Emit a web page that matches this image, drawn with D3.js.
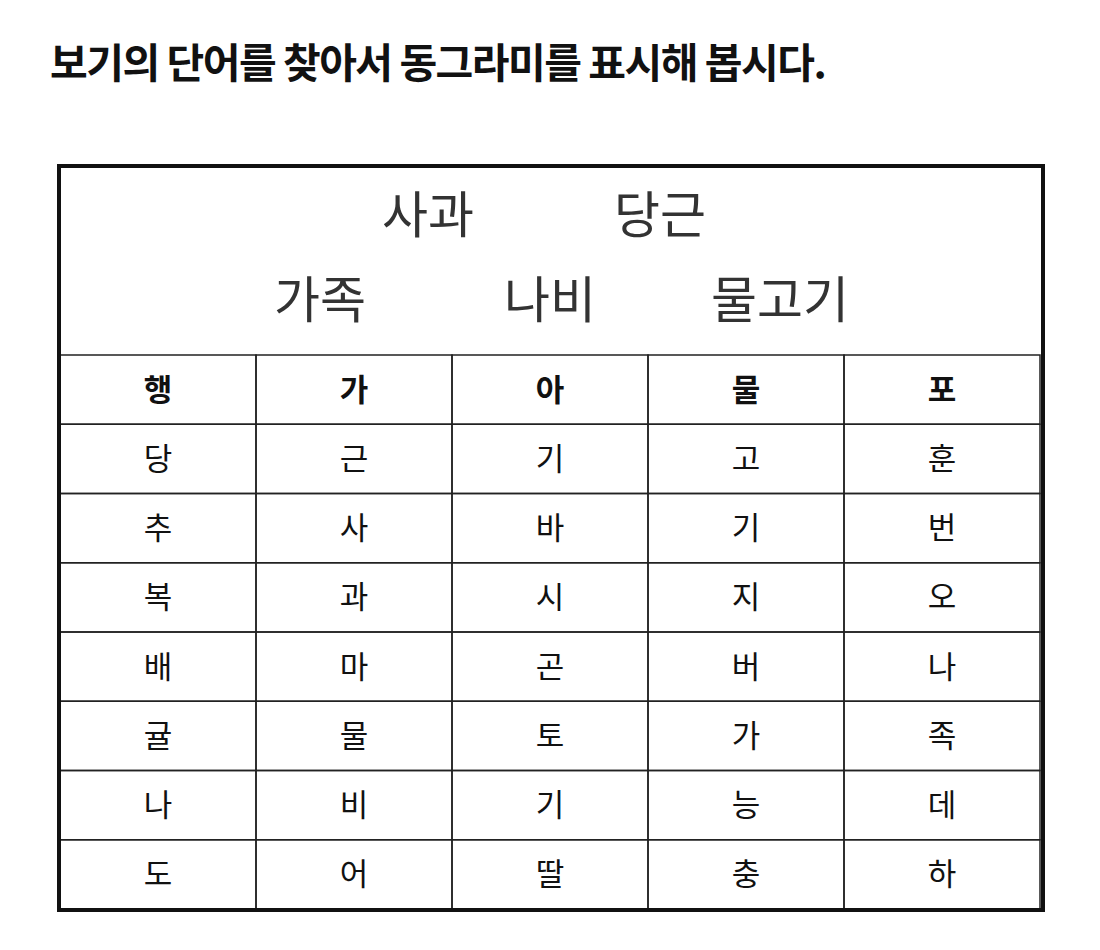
<!DOCTYPE html>
<html><head><meta charset="utf-8">
<script src="https://cdn.jsdelivr.net/npm/d3@7"></script>
<style>body{margin:0;background:#fff}</style>
</head><body><svg id="c" width="1100" height="950"></svg>
<script>
const title = "보기의 단어를 찾아서 동그라미를 표시해 봅시다.";
const wordsTop = ["사과", "당근"];
const wordsBottom = ["가족", "나비", "물고기"];
const grid = [
  ["행","가","아","물","포"],
  ["당","근","기","고","훈"],
  ["추","사","바","기","번"],
  ["복","과","시","지","오"],
  ["배","마","곤","버","나"],
  ["귤","물","토","가","족"],
  ["나","비","기","능","데"],
  ["도","어","딸","충","하"]
];

const svg = d3.select("#c");
const font = "'Noto Sans CJK KR', sans-serif";

svg.append("text").attr("x", 50).attr("y", 78).text(title)
  .attr("font-family", font).attr("font-weight", 700).attr("font-size", 41)
  .attr("letter-spacing", -1.5).attr("fill", "#111");

const boxLeft = 60, boxRight = 1042, boxTop = 167, gridTop = 355, boxBottom = 909;

// word box
const xTop = d3.scalePoint().domain(wordsTop).range([428, 660]);
const xBot = d3.scalePoint().domain(wordsBottom).range([320, 780]);
const words = svg.append("g").attr("text-anchor", "middle").attr("font-family", font)
  .attr("font-size", 50).attr("fill", "#333");
words.selectAll(".wt").data(wordsTop).join("text")
  .attr("x", d => xTop(d)).attr("y", 233).text(d => d);
words.selectAll(".wb").data(wordsBottom).join("text")
  .attr("x", d => xBot(d)).attr("y", 318).text(d => d);

// grid
const x = d3.scaleBand().domain(d3.range(5)).range([boxLeft, boxRight - 2]);
const y = d3.scaleBand().domain(d3.range(grid.length)).range([gridTop, boxBottom]);

const cells = svg.append("g");
grid.forEach((row, r) => row.forEach((ch, c) => {
  cells.append("rect").attr("x", x(c)).attr("y", y(r))
    .attr("width", x.bandwidth()).attr("height", y.bandwidth())
    .attr("fill", "none").attr("stroke", "#222").attr("stroke-width", 1.5);
  cells.append("text").attr("x", x(c) + x.bandwidth() / 2)
    .attr("y", y(r) + y.bandwidth() / 2 + 11)
    .attr("text-anchor", "middle").attr("font-family", font)
    .attr("font-size", 31).attr("font-weight", r === 0 ? 700 : 400)
    .attr("fill", "#111").text(ch);
}));

svg.append("rect").attr("x", boxLeft - 1).attr("y", boxTop - 1)
  .attr("width", boxRight - boxLeft + 2).attr("height", boxBottom - boxTop + 2)
  .attr("fill", "none").attr("stroke", "#111").attr("stroke-width", 4);
</script></body></html>
